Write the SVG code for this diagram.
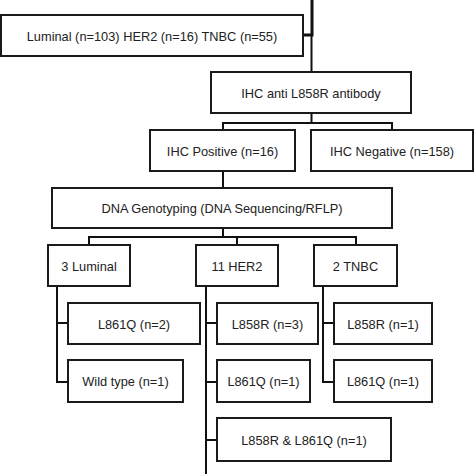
<svg xmlns="http://www.w3.org/2000/svg" width="474" height="474" viewBox="0 0 474 474">
<style>
.box{fill:#fff;stroke:#1a1a1a;stroke-width:2}
.t{font-family:"Liberation Sans",Arial,sans-serif;font-size:12.8px;fill:#222;text-anchor:middle;dominant-baseline:central}
.c{fill:none;stroke:#111;stroke-width:2}
.ct{fill:none;stroke:#111;stroke-width:3}
</style>
<rect width="474" height="474" fill="#fff"/>
<g id="connectors">
<path class="ct" d="M312,0 V35 H303"/>
<path class="c" d="M311.5,35 V72"/>
<path class="c" d="M311.5,113 V123 M223,129 V123 H392 V129"/>
<path class="c" d="M223,171 V188"/>
<path class="c" d="M223,228 V237 M89,245 V237 H356 V245 M237,237 V245"/>
<path class="c" d="M57,286 V382 H68 M57,323 H68"/>
<path class="c" d="M206,286 V474 M206,323 H217 M206,382 H217 M206,440 H217"/>
<path class="c" d="M323,286 V382 H334 M323,323 H334"/>
</g>
<g id="n_all"><rect class="box" x="1" y="15" width="302" height="41"/><text class="t" x="152" y="36">Luminal (n=103) HER2 (n=16) TNBC (n=55)</text></g>
<g id="n_ihc"><rect class="box" x="211" y="72" width="200" height="41"/><text class="t" x="311" y="93">IHC anti L858R antibody</text></g>
<g id="n_pos"><rect class="box" x="150" y="130" width="145" height="41"/><text class="t" x="222.5" y="151">IHC Positive (n=16)</text></g>
<g id="n_neg"><rect class="box" x="311" y="130" width="162" height="41"/><text class="t" x="392" y="151">IHC Negative (n=158)</text></g>
<g id="n_dna"><rect class="box" x="52" y="188" width="340" height="40"/><text class="t" x="222" y="208">DNA Genotyping (DNA Sequencing/RFLP)</text></g>
<g id="n_lum"><rect class="box" x="48" y="245" width="82" height="41"/><text class="t" x="89" y="266">3 Luminal</text></g>
<g id="n_her2"><rect class="box" x="196" y="245" width="82" height="41"/><text class="t" x="237" y="266">11 HER2</text></g>
<g id="n_tnbc"><rect class="box" x="314" y="245" width="83" height="41"/><text class="t" x="355.5" y="266">2 TNBC</text></g>
<g id="n_lum1"><rect class="box" x="68" y="303" width="132" height="41"/><text class="t" x="134" y="324">L861Q (n=2)</text></g>
<g id="n_lum2"><rect class="box" x="68" y="360" width="115" height="42"/><text class="t" x="125.5" y="381">Wild type (n=1)</text></g>
<g id="n_her1"><rect class="box" x="217" y="303" width="101" height="41"/><text class="t" x="267.5" y="324">L858R (n=3)</text></g>
<g id="n_her2b"><rect class="box" x="217" y="360" width="93" height="42"/><text class="t" x="263.5" y="381">L861Q (n=1)</text></g>
<g id="n_her3"><rect class="box" x="217" y="418" width="174" height="43"/><text class="t" x="304" y="440">L858R &amp; L861Q (n=1)</text></g>
<g id="n_tn1"><rect class="box" x="334" y="303" width="98" height="41"/><text class="t" x="383" y="324">L858R (n=1)</text></g>
<g id="n_tn2"><rect class="box" x="334" y="360" width="98" height="42"/><text class="t" x="383" y="381">L861Q (n=1)</text></g>
</svg>
